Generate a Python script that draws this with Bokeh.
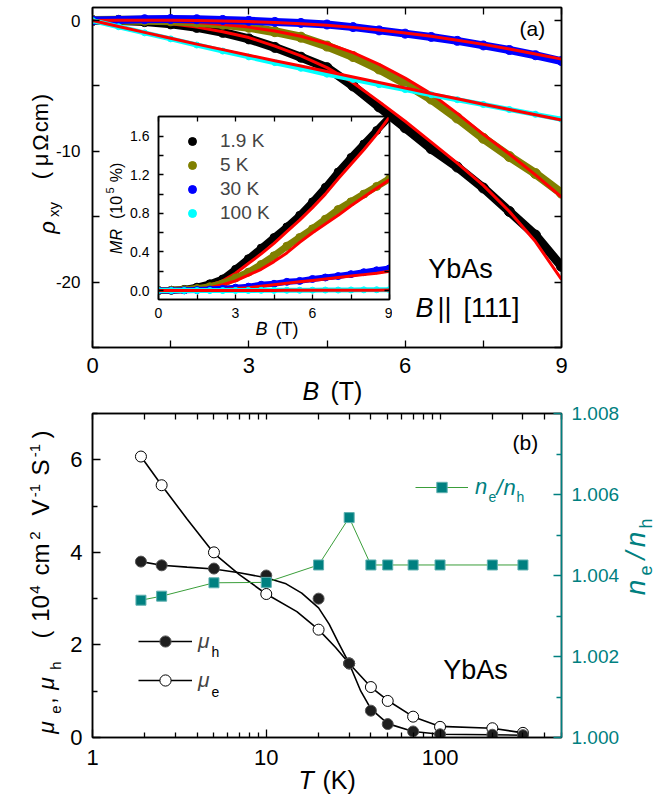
from math import pi
from bokeh.plotting import figure
from bokeh.layouts import column
from bokeh.models import (Range1d, LinearAxis, LogAxis, FixedTicker, Label, Legend, LegendItem,
                          PrintfTickFormatter, GridBox)
from bokeh.embed import file_html
from bokeh.resources import INLINE

FONT = "Liberation Sans"
TEAL = "#008080"

# ---------------- data: panel (a) Hall resistivity ----------------
B_field = [0, 0.5, 1, 1.5, 2, 2.5, 3, 3.5, 4, 4.5, 5, 5.5, 6, 6.5, 7, 7.5, 8, 8.5, 9]
rho_1p9K = [0, 0, -0.08, -0.25, -0.52, -0.9, -1.4, -2.05, -2.8, -3.6, -5.0, -6.6, -8.2, -9.8, -11.2, -12.8, -14.6, -16.4, -18.8]
rho_1p9K_fit = [0, -0.02, -0.1, -0.25, -0.5, -0.85, -1.3, -1.95, -2.7, -3.6, -4.75, -6.2, -7.7, -9.3, -10.9, -12.6, -14.6, -16.9, -19.8]
rho_5K = [0, 0.02, 0.02, -0.02, -0.12, -0.28, -0.51, -0.85, -1.27, -1.95, -2.75, -3.7, -4.8, -6.0, -7.45, -9.0, -10.4, -11.7, -13.2]
rho_5K_fit = [0, 0, 0, -0.05, -0.15, -0.3, -0.5, -0.8, -1.2, -1.75, -2.45, -3.35, -4.4, -5.6, -7.1, -8.7, -10.2, -11.8, -13.5]
rho_30K = [0, 0.05, 0.1, 0.12, 0.1, 0.05, -0.02, -0.1, -0.18, -0.3, -0.5, -0.75, -1.0, -1.25, -1.55, -1.9, -2.25, -2.65, -3.1]
rho_30K_fit = [0, 0.02, 0.03, 0.03, 0.01, -0.03, -0.08, -0.15, -0.24, -0.36, -0.52, -0.72, -0.95, -1.2, -1.5, -1.82, -2.18, -2.55, -2.95]
rho_100K = [0, -0.47, -0.94, -1.4, -1.87, -2.33, -2.78, -3.22, -3.65, -4.1, -4.5, -4.9, -5.28, -5.67, -6.05, -6.42, -6.8, -7.17, -7.55]
rho_100K_fit = [0, -0.45, -0.9, -1.35, -1.8, -2.22, -2.65, -3.07, -3.48, -3.9, -4.32, -4.74, -5.15, -5.57, -5.98, -6.4, -6.8, -7.2, -7.6]

# ---------------- data: inset MR (10^5 %) ----------------
mr_1p9K = [0, 0.003, 0.012, 0.035, 0.07, 0.12, 0.22, 0.33, 0.44, 0.55, 0.66, 0.78, 0.92, 1.07, 1.23, 1.38, 1.52, 1.66, 1.8]
mr_1p9K_fit = [0, 0.002, 0.01, 0.025, 0.055, 0.1, 0.18, 0.28, 0.38, 0.49, 0.61, 0.73, 0.86, 1.0, 1.16, 1.31, 1.46, 1.62, 1.8]
mr_5K = [0, 0.002, 0.008, 0.02, 0.04, 0.07, 0.13, 0.19, 0.27, 0.36, 0.46, 0.55, 0.64, 0.74, 0.84, 0.92, 1.0, 1.08, 1.16]
mr_5K_fit = [0, 0.001, 0.005, 0.015, 0.03, 0.06, 0.1, 0.16, 0.22, 0.3, 0.39, 0.5, 0.6, 0.69, 0.78, 0.88, 0.97, 1.06, 1.15]
mr_30K = [0, 0, 0.002, 0.005, 0.01, 0.018, 0.03, 0.04, 0.06, 0.07, 0.09, 0.1, 0.12, 0.135, 0.15, 0.17, 0.19, 0.21, 0.23]
mr_30K_fit = [0, 0, 0.001, 0.003, 0.007, 0.012, 0.02, 0.03, 0.045, 0.06, 0.075, 0.09, 0.105, 0.12, 0.135, 0.15, 0.165, 0.18, 0.2]
mr_100K = [0, 0, 0, 0, 0, 0, 0.001, 0.001, 0.002, 0.002, 0.003, 0.003, 0.004, 0.005, 0.005, 0.006, 0.007, 0.008, 0.009]
mr_100K_fit = [0, 0, 0, 0, 0, 0, 0, 0.001, 0.001, 0.001, 0.002, 0.002, 0.002, 0.003, 0.003, 0.003, 0.004, 0.004, 0.005]
temps_labels = ["1.9 K", "5 K", "30 K", "100 K"]

# ---------------- data: panel (b) mobilities and carrier ratio ----------------
T_K = [1.9, 2.5, 5, 10, 20, 30, 40, 50, 70, 100, 200, 300]
mu_h = [3.8, 3.72, 3.65, 3.5, 3.0, 1.6, 0.58, 0.29, 0.13, 0.07, 0.06, 0.05]
mu_e = [6.07, 5.45, 4.0, 3.1, 2.33, 1.6, 1.09, 0.79, 0.45, 0.23, 0.2, 0.1]
ne_nh = [1.00339, 1.00349, 1.00382, 1.00383, 1.00426, 1.00543, 1.00426, 1.00426, 1.00426, 1.00426, 1.00426, 1.00426]
# guide curves
T_curve_h = [1.9, 2.5, 3.5, 5, 7, 10, 13, 16, 20, 23, 26, 30, 35, 40, 50, 70, 100, 200, 300]
mu_h_curve = [3.8, 3.72, 3.68, 3.64, 3.56, 3.45, 3.32, 3.12, 2.8, 2.45, 2.05, 1.6, 1.0, 0.62, 0.3, 0.13, 0.07, 0.06, 0.05]
T_curve_e = [1.9, 2.5, 3.5, 5, 7, 10, 15, 20, 25, 30, 40, 50, 70, 100, 200, 300]
mu_e_curve = [6.07, 5.45, 4.72, 3.98, 3.52, 3.1, 2.72, 2.33, 1.95, 1.6, 1.09, 0.8, 0.45, 0.24, 0.2, 0.1]


def style_axis(ax, size=0, color="black", tin=7, mtin=7, standoff=10):
    ax.axis_label = None
    ax.axis_line_color = color
    ax.axis_line_width = 1.5
    ax.major_tick_line_color = color
    ax.minor_tick_line_color = color
    ax.major_tick_line_width = 1.3
    ax.minor_tick_line_width = 1.3
    ax.major_tick_in = tin
    ax.major_tick_out = 0
    ax.minor_tick_in = mtin
    ax.minor_tick_out = 0
    ax.major_label_text_font = FONT
    ax.major_label_text_color = color
    ax.major_label_text_font_size = f"{max(size, 10)}px"
    ax.major_label_standoff = standoff


def mirror_axis(fig, side, ticks, minor, tick_len, range_name=None, log=False):
    """Mirror axis showing tick marks only (all ticks given as minor, so no labels)."""
    kw = {} if range_name is None else {"y_range_name": range_name}
    cls = LogAxis if log else LinearAxis
    ax = cls(ticker=FixedTicker(ticks=[], minor_ticks=sorted(list(ticks) + list(minor))), **kw)
    style_axis(ax, 10, tin=tick_len, mtin=tick_len, standoff=0)
    fig.add_layout(ax, side)


def base_fig(**kw):
    f = figure(output_backend="svg", toolbar_location=None, **kw)
    f.xgrid.visible = False
    f.ygrid.visible = False
    f.outline_line_color = "black"
    f.outline_line_width = 1.5
    f.background_fill_color = "white"
    return f


# ======================= panel (a) =======================
pa = base_fig(width=659, height=400, x_range=Range1d(0, 9), y_range=Range1d(-25, 1),
              min_border_left=92, min_border_right=98, min_border_top=7, min_border_bottom=53)
pa.border_fill_color = "white"
xt_a = ([0, 3, 6, 9], [1.5, 4.5, 7.5])
yt_a = ([-20, -10, 0], [-25, -15, -5])
pa.xaxis.ticker = FixedTicker(ticks=xt_a[0], minor_ticks=xt_a[1])
pa.yaxis.ticker = FixedTicker(ticks=yt_a[0], minor_ticks=yt_a[1])
pa.yaxis.major_label_overrides = {-20: "-20", -10: "-10", 0: "0"}
style_axis(pa.xaxis[0], 22, standoff=10)
style_axis(pa.yaxis[0], 17, standoff=12)
mirror_axis(pa, "above", *xt_a, 7)
mirror_axis(pa, "right", *yt_a, 7)

series_a = [(rho_1p9K, rho_1p9K_fit, "black", 9, 10),
            (rho_5K, rho_5K_fit, "#808000", 9, 10),
            (rho_30K, rho_30K_fit, "#0000ff", 8, 9),
            (rho_100K, rho_100K_fit, "#00ffff", 5, 6)]
for data, fit, col, lw, ms in series_a:
    pa.line(B_field, data, line_color=col, line_width=lw, line_join="round", line_cap="round")
    pa.scatter(B_field, data, size=ms, marker="circle", fill_color=col, line_color=col)
    pa.line(B_field, fit, line_color="#ff0000", line_width=3)

# ======================= inset =======================
pin = base_fig(width=292, height=230, x_range=Range1d(0, 9), y_range=Range1d(-0.093, 1.805),
               min_border_left=58, min_border_right=3, min_border_top=4, min_border_bottom=43)
pin.border_fill_alpha = 0
xt_i = ([0, 3, 6, 9], [1.5, 4.5, 7.5])
yt_i = ([0, 0.4, 0.8, 1.2, 1.6], [0.2, 0.6, 1.0, 1.4])
pin.xaxis.ticker = FixedTicker(ticks=xt_i[0], minor_ticks=xt_i[1])
pin.yaxis.ticker = FixedTicker(ticks=yt_i[0], minor_ticks=yt_i[1])
pin.yaxis.formatter = PrintfTickFormatter(format="%.1f")
style_axis(pin.xaxis[0], 14, tin=5, mtin=5, standoff=8)
style_axis(pin.yaxis[0], 14, tin=5, mtin=5, standoff=9)
mirror_axis(pin, "above", *xt_i, 5)
mirror_axis(pin, "right", *yt_i, 5)

series_i = [(mr_1p9K, mr_1p9K_fit, "black", 7, 8),
            (mr_5K, mr_5K_fit, "#808000", 7, 8),
            (mr_30K, mr_30K_fit, "#0000ff", 6, 7),
            (mr_100K, mr_100K_fit, "#00ffff", 5, 6)]
items_in = []
for (data, fit, col, lw, ms), lab in zip(series_i, temps_labels):
    pin.line(B_field, data, line_color=col, line_width=lw, line_join="round", line_cap="round")
    sc = pin.scatter(B_field, data, size=ms, marker="circle", fill_color=col, line_color=col)
    pin.line(B_field, fit, line_color="#ff0000", line_width=3)
    items_in.append(LegendItem(label=lab, renderers=[sc]))
leg_in = Legend(items=items_in, location=(24, 75), padding=0, margin=0, spacing=2,
                glyph_width=20, glyph_height=22, label_height=22, label_standoff=18,
                border_line_alpha=0, background_fill_alpha=0,
                label_text_font=FONT, label_text_font_size="19px")
pin.add_layout(leg_in)

# ======================= panel (b) =======================
pb = base_fig(width=659, height=404, x_axis_type="log", x_range=Range1d(1, 500), y_range=Range1d(0, 7),
              min_border_left=92, min_border_right=98, min_border_top=13, min_border_bottom=67)
pb.border_fill_color = "white"
pb.extra_y_ranges = {"ratio": Range1d(1.0, 1.008)}

minor_log = [2, 3, 4, 5, 6, 7, 8, 9, 20, 30, 40, 50, 60, 70, 80, 90, 200, 300, 400, 500]
xt_b = ([1, 10, 100], minor_log)
yt_b = ([0, 2, 4, 6], [1, 3, 5, 7])
pb.xaxis.ticker = FixedTicker(ticks=xt_b[0], minor_ticks=xt_b[1])
pb.xaxis.major_label_overrides = {1: "1", 10: "10", 100: "100"}
pb.yaxis.ticker = FixedTicker(ticks=yt_b[0], minor_ticks=yt_b[1])
style_axis(pb.xaxis[0], 22, tin=8, mtin=5, standoff=12)
style_axis(pb.yaxis[0], 22, tin=8, mtin=5, standoff=10)
mirror_axis(pb, "above", *xt_b, 6, log=True)
ab_right = LinearAxis(y_range_name="ratio",
                      ticker=FixedTicker(ticks=[1.0, 1.002, 1.004, 1.006, 1.008],
                                         minor_ticks=[1.001, 1.003, 1.005, 1.007]),
                      formatter=PrintfTickFormatter(format="%.3f"))
style_axis(ab_right, 19, color=TEAL, tin=8, mtin=5, standoff=10)
pb.add_layout(ab_right, "right")

ln_h = pb.line(T_curve_h, mu_h_curve, line_color="black", line_width=1.6)
ln_e = pb.line(T_curve_e, mu_e_curve, line_color="black", line_width=1.6)
sc_e = pb.scatter(T_K, mu_e, size=11, marker="circle", fill_color="white", line_color="black", line_width=1)
sc_h = pb.scatter(T_K, mu_h, size=11, marker="circle", fill_color="#1e1e1e", line_color="#555555", line_width=1)
ln_n = pb.line(T_K, ne_nh, y_range_name="ratio", line_color="#3a9e3a", line_width=1)
sc_n = pb.scatter(T_K, ne_nh, y_range_name="ratio", size=10, marker="square", fill_color=TEAL,
                  line_color="#5fb0b0", line_width=1)

leg_mu = Legend(items=[LegendItem(label="μ", renderers=[ln_h, sc_h]),
                       LegendItem(label="μ", renderers=[ln_e, sc_e])],
                location=(46, 43), padding=0, margin=0, spacing=11, glyph_width=54,
                glyph_height=28, label_height=28, label_standoff=6,
                border_line_alpha=0, background_fill_alpha=0,
                label_text_font=FONT, label_text_font_size="21px", label_text_font_style="italic")
pb.add_layout(leg_mu)
leg_n = Legend(items=[LegendItem(label="n", renderers=[ln_n, sc_n])],
               location=(323, 237), padding=0, margin=0, glyph_width=53, glyph_height=26,
               label_height=26, label_standoff=7,
               border_line_alpha=0, background_fill_alpha=0,
               label_text_font=FONT, label_text_font_size="22px", label_text_font_style="italic",
               label_text_color=TEAL)
pb.add_layout(leg_n)

# ======================= text layer (page pixel coordinates) =======================
ov = figure(width=659, height=804, x_range=Range1d(0, 659), y_range=Range1d(804, 0),
            output_backend="svg", toolbar_location=None, x_axis_location=None, y_axis_location=None,
            min_border_left=0, min_border_right=0, min_border_top=0, min_border_bottom=0)
ov.xgrid.visible = False
ov.ygrid.visible = False
ov.outline_line_color = None
ov.background_fill_alpha = 0
ov.border_fill_alpha = 0

BASE_FIX = 0.32  # anchor correction (fraction of font size) so that positions are true baselines


def hlabel(px, py, text, size, style="normal", color="black", align="left"):
    ov.add_layout(Label(x=px, y=py - BASE_FIX * size, text=text, text_font=FONT,
                        text_font_size=f"{size}px", text_font_style=style, text_color=color,
                        text_align=align, text_baseline="alphabetic"))


def vlabel(pxb, pyc, text, size, style="normal", color="black"):
    ov.add_layout(Label(x=pxb - BASE_FIX * size, y=pyc, text=text, angle=pi / 2, text_font=FONT,
                        text_font_size=f"{size}px", text_font_style=style, text_color=color,
                        text_align="center", text_baseline="alphabetic"))


# panel (a)
hlabel(519, 35, "(a)", 21)
hlabel(460, 277, "YbAs", 27, align="center")
hlabel(415, 316, "B", 27, style="italic")
hlabel(437, 316, "||", 27)
hlabel(463, 316, "[111]", 27)
hlabel(302, 398, "B", 25, style="italic")
hlabel(330, 398, "(T)", 25)
vlabel(54, 227, "ρ", 22, style="italic")
vlabel(58, 209, "xy", 15)
vlabel(47, 175, "(", 22)
vlabel(47, 159.5, "μ", 22)
vlabel(47, 142, "Ω", 22)
vlabel(47, 117, "cm", 22)
vlabel(47, 97, ")", 22)
# inset
hlabel(255, 334, "B", 18, style="italic")
hlabel(275, 334, "(T)", 18)
vlabel(121, 241, "MR", 16, style="italic")
vlabel(121, 207, "(10", 16)
vlabel(113, 190, "5", 11)
vlabel(121, 172, "%)", 16)
# panel (b)
hlabel(512, 449, "(b)", 21)
hlabel(475, 678, "YbAs", 27, align="center")
hlabel(298, 787, "T", 25, style="italic")
hlabel(322, 787, "(K)", 25)
hlabel(211, 656, "h", 14)
hlabel(211, 696, "e", 14)
hlabel(488, 501, "e", 14, color=TEAL)
hlabel(496, 494, "/", 22, style="italic", color=TEAL)
hlabel(503, 494, "n", 22, style="italic", color=TEAL)
hlabel(516, 501, "h", 14, color=TEAL)
vlabel(53, 727, "μ", 23, style="italic")
vlabel(60, 709, "e", 15)
vlabel(53, 700, ",", 23)
vlabel(53, 683, "μ", 23, style="italic")
vlabel(60, 665, "h", 15)
vlabel(48, 634, "(", 24)
vlabel(48, 608, "10", 24)
vlabel(39, 589, "4", 15)
vlabel(48, 559, "cm", 24)
vlabel(39, 535, "2", 15)
vlabel(48, 507, "V", 24)
vlabel(39, 490, "-1", 15)
vlabel(48, 467, "S", 24)
vlabel(39, 450, "-1", 15)
vlabel(48, 434, ")", 24)
vlabel(644, 587, "n", 28, style="italic", color=TEAL)
vlabel(651, 570, "e", 18, color=TEAL)
vlabel(644, 555, "/", 28, style="italic", color=TEAL)
vlabel(644, 539, "n", 28, style="italic", color=TEAL)
vlabel(651, 523, "h", 18, color=TEAL)

ov_box = column(ov, spacing=0)

grid = GridBox(children=[(pa, 1, 1, 3, 3), (pin, 2, 2), (pb, 4, 1, 1, 3), (ov_box, 0, 0, 6, 5)],
               rows=["0px", "112px", "230px", "58px", "404px", "0px"],
               cols=["0px", "100px", "292px", "267px", "0px"],
               spacing=0)

open("out.html", "w").write(file_html(grid, INLINE))
